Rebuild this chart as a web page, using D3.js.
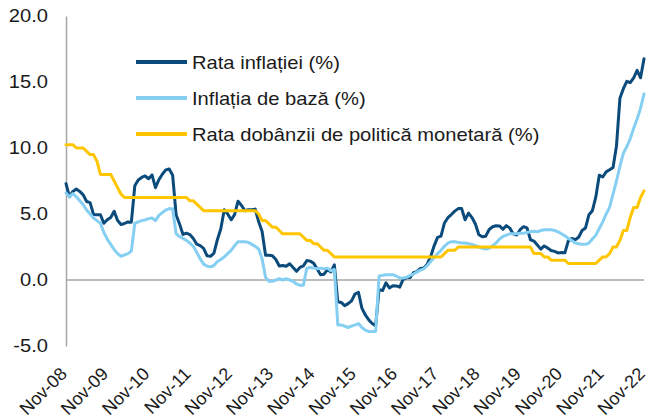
<!DOCTYPE html>
<html>
<head>
<meta charset="utf-8">
<script src="https://cdn.jsdelivr.net/npm/d3@7"></script>
<style>
html,body{margin:0;padding:0;background:#fff;}
svg{display:block;font-family:"Liberation Sans",Arial,sans-serif;}
</style>
</head>
<body>
<div id="chart"></div>
<script>
/* monthly series, Nov-08 .. Nov-22 (169 points) */
var tickLabels=["Nov-08","Nov-09","Nov-10","Nov-11","Nov-12","Nov-13","Nov-14","Nov-15",
    "Nov-16","Nov-17","Nov-18","Nov-19","Nov-20","Nov-21","Nov-22"];
var yTicks=[-5,0,5,10,15,20];

var cpi=[7.3,6.30,6.71,6.89,6.71,6.45,5.95,5.86,4.96,4.94,4.94,4.30,4.57,4.74,
    5.20,4.50,4.20,4.28,4.40,4.38,7.14,7.58,7.77,7.88,7.67,7.96,
    6.99,7.60,8.01,8.34,8.41,7.93,4.95,4.25,3.45,3.55,3.44,3.14,
    2.72,2.60,2.40,1.83,1.79,2.04,3.05,3.88,5.33,5.00,4.56,4.95,
    5.97,5.65,5.25,5.33,5.32,5.37,4.41,3.67,1.88,1.88,1.83,1.55,
    1.06,1.10,1.04,1.23,0.94,0.66,0.95,1.07,1.47,1.43,1.26,0.83,
    0.40,0.44,0.79,0.61,1.15,-1.65,-1.70,-1.94,-1.79,-1.58,-1.06,-0.93,
    -2.13,-2.65,-3.02,-3.30,-3.46,-0.73,-0.80,-0.22,-0.60,-0.44,-0.45,-0.54,
    0.05,0.17,0.18,0.55,0.64,0.88,0.91,1.20,1.77,2.59,3.23,3.32,
    4.32,4.72,4.96,5.22,5.41,5.41,4.56,5.07,4.73,4.24,3.43,3.27,
    3.32,3.83,4.03,4.11,4.10,3.84,4.12,3.93,3.49,3.41,3.81,4.04,
    3.95,3.05,2.95,2.65,2.34,2.58,2.42,2.24,2.17,2.05,2.08,2.06,
    2.96,3.15,3.05,3.24,3.75,3.94,4.95,5.25,6.29,7.94,7.80,8.19,
    8.35,8.53,10.15,13.76,14.49,15.05,14.96,15.32,15.88,15.32,16.76];

var core=[6.6,6.3,6.55,6.3,6.0,5.7,5.3,5.0,4.7,4.5,4.3,3.6,3.1,2.7,
    2.3,2.0,1.8,1.9,2.0,2.2,4.3,4.4,4.5,4.55,4.65,4.7,
    4.5,4.9,5.1,5.3,5.4,5.4,3.5,3.3,3.15,3.0,2.8,2.55,
    2.1,1.6,1.2,1.05,1.0,1.1,1.4,1.55,1.75,2.0,2.25,2.6,
    2.9,2.9,2.9,2.85,2.7,2.55,2.35,1.6,0.2,-0.1,-0.1,0.0,
    0.1,0.0,0.1,0.0,-0.1,-0.3,-0.4,-0.4,0.9,0.95,0.9,0.85,
    0.9,0.85,0.9,0.7,0.8,-3.4,-3.4,-3.5,-3.6,-3.5,-3.4,-3.3,
    -3.6,-3.8,-3.9,-3.9,-3.9,0.3,0.35,0.4,0.4,0.4,0.3,0.15,
    0.15,0.2,0.35,0.45,0.6,0.75,0.85,1.1,1.4,1.7,2.0,2.25,
    2.55,2.8,2.9,2.9,2.85,2.8,2.8,2.75,2.7,2.6,2.5,2.4,
    2.35,2.4,2.6,2.8,3.1,3.3,3.4,3.5,3.5,3.5,3.55,3.55,
    3.6,3.65,3.7,3.65,3.75,3.8,3.8,3.8,3.75,3.65,3.5,3.35,
    3.15,3.0,2.8,2.75,2.7,2.7,2.8,3.1,3.4,3.9,4.4,5.0,
    5.5,6.5,7.5,8.6,9.6,10.1,10.7,11.5,12.2,13.0,14.1];

var policy=[10.25,10.25,10.25,10.0,10.0,10.0,9.75,9.5,9.5,9.0,8.0,8.0,8.0,8.0,
    7.5,7.0,6.5,6.25,6.25,6.25,6.25,6.25,6.25,6.25,6.25,6.25,
    6.25,6.25,6.25,6.25,6.25,6.25,6.25,6.25,6.25,6.25,6.0,6.0,
    5.75,5.5,5.25,5.25,5.25,5.25,5.25,5.25,5.25,5.25,5.25,5.25,
    5.25,5.25,5.25,5.25,5.25,5.25,5.0,4.5,4.5,4.25,4.0,4.0,
    3.75,3.5,3.5,3.5,3.5,3.5,3.5,3.25,3.0,3.0,2.75,2.75,
    2.5,2.25,2.25,2.0,1.75,1.75,1.75,1.75,1.75,1.75,1.75,1.75,
    1.75,1.75,1.75,1.75,1.75,1.75,1.75,1.75,1.75,1.75,1.75,1.75,
    1.75,1.75,1.75,1.75,1.75,1.75,1.75,1.75,1.75,1.75,1.75,1.75,
    2.0,2.25,2.25,2.25,2.5,2.5,2.5,2.5,2.5,2.5,2.5,2.5,
    2.5,2.5,2.5,2.5,2.5,2.5,2.5,2.5,2.5,2.5,2.5,2.5,
    2.5,2.5,2.0,2.0,2.0,1.75,1.75,1.5,1.5,1.5,1.5,1.5,
    1.25,1.25,1.25,1.25,1.25,1.25,1.25,1.25,1.25,1.5,1.75,1.75,
    2.0,2.5,2.5,3.0,3.75,3.75,4.75,5.5,5.5,6.25,6.75];

var seriesNames=["Rata inflației (%)","Inflația de bază (%)","Rata dobânzii de politică monetară (%)"];
var seriesColors=["#0b4b7b","#84cff2","#ffc600"];
var series=[cpi,core,policy];

var W=648,H=419, axisColor="#a6a6a6", textColor="#1a1a1a", stretch=1.12;
var svg=d3.select("#chart").append("svg").attr("width",W).attr("height",H);

var x=d3.scaleLinear().domain([0,cpi.length-1]).range([66,644]);
var y=d3.scaleLinear().domain([-5,20]).range([346,16]);

/* y axis */
var ya=svg.append("g").attr("transform","translate("+x(0)+",0)")
    .call(d3.axisLeft(y).tickValues(yTicks).tickSize(0).tickSizeOuter(0).tickPadding(16)
        .tickFormat(function(d){return d.toFixed(1);}));
ya.select(".domain").attr("stroke",axisColor).attr("stroke-width",1.5);
ya.selectAll("text").attr("font-size",18).attr("fill",textColor)
    .attr("font-family","Liberation Sans, Arial, sans-serif")
    .attr("transform","scale("+stretch+",1)");

/* zero line acts as category axis */
svg.append("line").attr("x1",x(0)).attr("x2",x(cpi.length-1))
    .attr("y1",y(0)).attr("y2",y(0)).attr("stroke",axisColor).attr("stroke-width",1.5);

/* rotated month labels every 12 points */
svg.append("g").selectAll("text").data(tickLabels).enter().append("text")
    .attr("text-anchor","end").attr("font-size",18).attr("fill",textColor)
    .attr("transform",function(d,i){return "translate("+(x(i*12)+2)+",375) rotate(-45)";})
    .text(function(d){return d;});

/* lines */
var line=d3.line().x(function(d,i){return x(i);}).y(function(d){return y(d);});
series.forEach(function(s,k){
    svg.append("path").datum(s).attr("d",line).attr("fill","none")
        .attr("stroke",seriesColors[k]).attr("stroke-width",3)
        .attr("stroke-linejoin","round").attr("stroke-linecap","round");
});

/* legend */
var leg=svg.append("g");
seriesNames.forEach(function(n,k){
    var ly=62+k*36;
    leg.append("line").attr("x1",136).attr("x2",187).attr("y1",ly).attr("y2",ly)
        .attr("stroke",seriesColors[k]).attr("stroke-width",4);
    leg.append("text").attr("font-size",18).attr("fill",textColor)
        .attr("transform","translate(192,"+(ly+7)+") scale("+stretch+",1)").text(n);
});
</script>
</body>
</html>
